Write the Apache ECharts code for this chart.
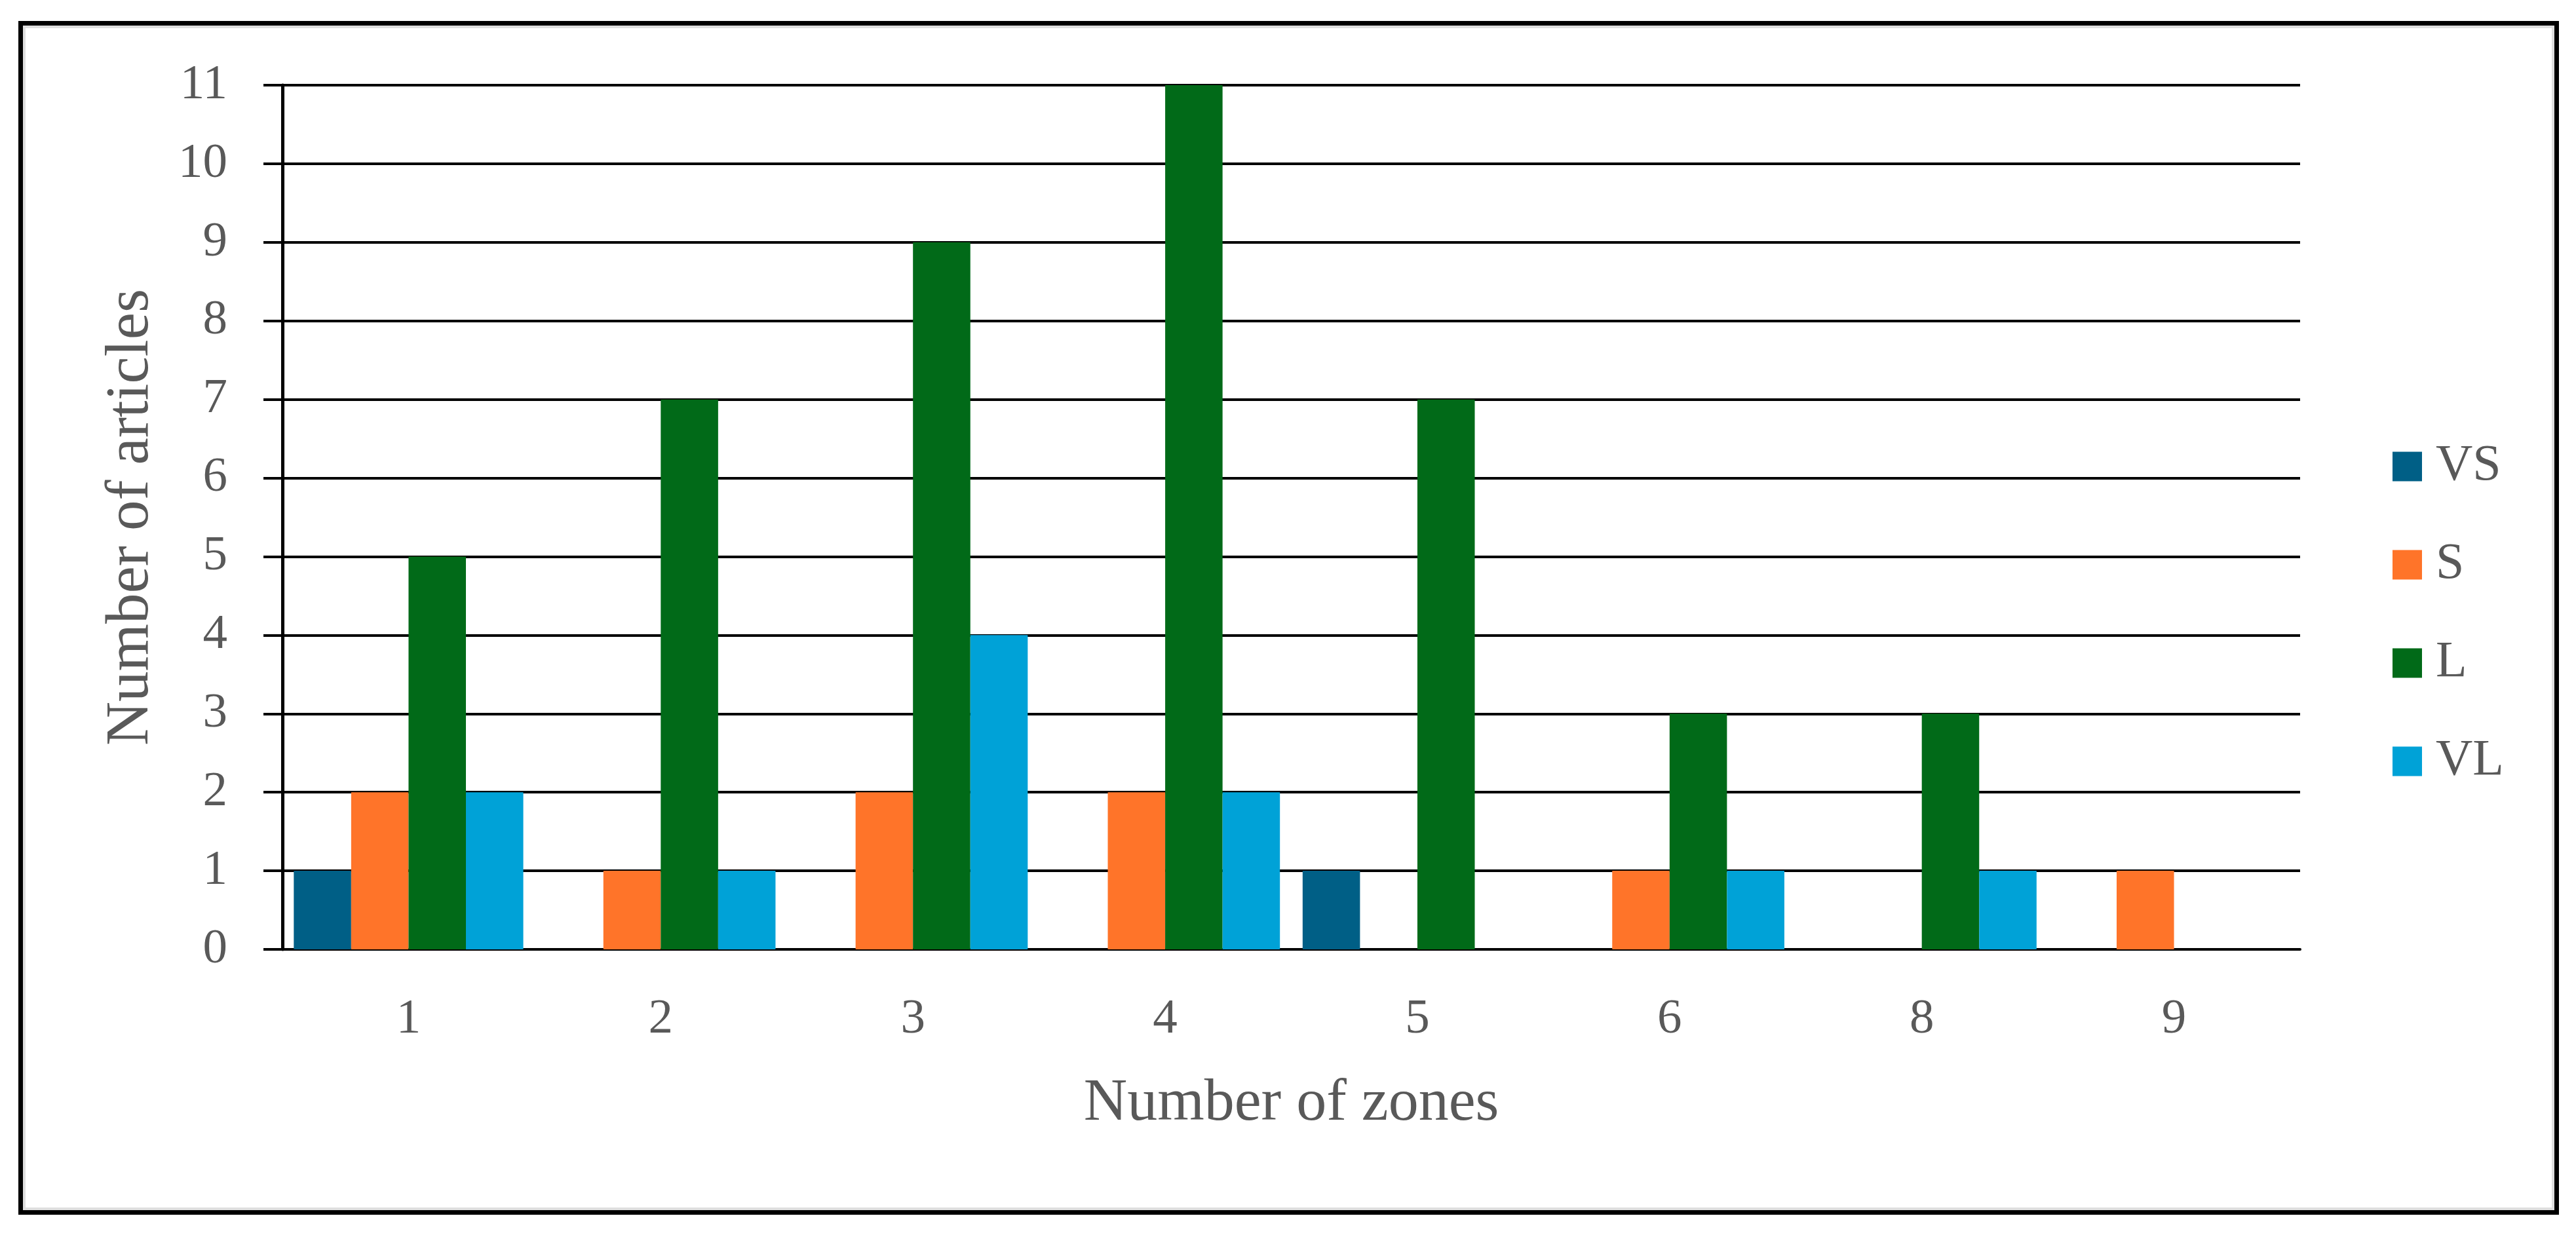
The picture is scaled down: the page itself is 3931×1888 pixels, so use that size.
<!DOCTYPE html>
<html>
<head>
<meta charset="utf-8">
<script src="https://cdn.jsdelivr.net/npm/echarts@6/dist/echarts.min.js"></script>
<style>
  html, body { margin: 0; padding: 0; background: #ffffff; }
  #frame {
    position: absolute; left: 28px; top: 32px; width: 3877px; height: 1822px;
    box-sizing: border-box; border: 7px solid #000000;
    box-shadow: inset 0 0 0 4px #dedede;
  }
  #chart { position: absolute; left: 0; top: 0; width: 3931px; height: 1888px; }
</style>
</head>
<body>
<div id="frame"></div>
<div id="chart"></div>
<script>
// ---- data ----
const categories = ['1', '2', '3', '4', '5', '6', '8', '9'];
const seriesNames = ['VS', 'S', 'L', 'VL'];
const valuesVS = [1, 0, 0, 0, 1, 0, 0, 0];
const valuesS  = [2, 1, 2, 2, 0, 1, 0, 1];
const valuesL  = [5, 7, 9, 11, 7, 3, 3, 0];
const valuesVL = [2, 1, 4, 2, 0, 1, 1, 0];
const yMin = 0, yMax = 11, yInterval = 1;
const xTitle = 'Number of zones';
const yTitle = 'Number of articles';

// ---- styles ----
const colors = ['#005f86', '#ff7429', '#016a18', '#00a2d7'];
const FONT = 'Liberation Serif';
const TEXT = '#595959';

const chart = echarts.init(document.getElementById('chart'), null, { renderer: 'canvas' });
const allValues = [valuesVS, valuesS, valuesL, valuesVL];

chart.setOption({
  animation: false,
  backgroundColor: 'transparent',
  color: colors,
  grid: { left: 431, right: 421, top: 130, bottom: 439, containLabel: false },
  legend: {
    orient: 'vertical',
    left: 3646,
    top: 668,
    itemWidth: 45,
    itemHeight: 45,
    itemGap: 72,
    icon: 'rect',
    data: seriesNames,
    textStyle: { fontFamily: FONT, fontSize: 78, color: TEXT, lineHeight: 78, padding: [0, 0, 0, 16] }
  },
  xAxis: {
    type: 'category',
    data: categories,
    name: xTitle,
    nameLocation: 'middle',
    nameGap: 190,
    nameTextStyle: { fontFamily: FONT, fontSize: 92, color: TEXT },
    axisLine: { show: true, lineStyle: { color: '#000000', width: 4 } },
    axisTick: { show: false },
    axisLabel: { fontFamily: FONT, fontSize: 75, color: TEXT, margin: 70 },
    splitLine: { show: false }
  },
  yAxis: {
    type: 'value',
    min: yMin,
    max: yMax,
    interval: yInterval,
    name: yTitle,
    nameLocation: 'middle',
    nameGap: 184,
    nameTextStyle: { fontFamily: FONT, fontSize: 93, color: TEXT },
    axisLine: { show: true, lineStyle: { color: '#000000', width: 5 } },
    axisTick: { show: true, length: 29, lineStyle: { color: '#000000', width: 4 } },
    axisLabel: { fontFamily: FONT, fontSize: 75, color: TEXT, margin: 84 },
    splitLine: { show: true, lineStyle: { color: '#000000', width: 4 } }
  },
  series: seriesNames.map((n, i) => ({
    name: n,
    type: 'bar',
    data: allValues[i],
    barGap: '0%',
    barCategoryGap: '9%',
    itemStyle: { color: colors[i] }
  }))
});
</script>
</body>
</html>
